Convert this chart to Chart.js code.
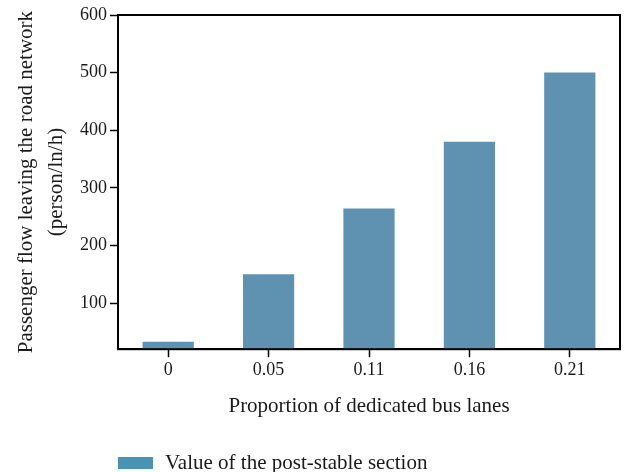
<!DOCTYPE html>
<html>
<head>
<meta charset="utf-8">
<script src="https://cdn.jsdelivr.net/npm/chart.js@4"></script>
<style>
  html, body { margin: 0; padding: 0; background: #fff; }
  #wrap { width: 637px; height: 472px; }
</style>
</head>
<body>
<div id="wrap"><canvas id="barChart" width="637" height="472"></canvas></div>
<script>
const categories = ["0", "0.05", "0.11", "0.16", "0.21"];
const flowValues = [33, 150, 264, 380, 500];
const yTicks = [100, 200, 300, 400, 500, 600];
const seriesName = "Value of the post-stable section";
const xTitle = "Proportion of dedicated bus lanes";
const yTitle = ["Passenger flow leaving the road network", "(person/ln/h)"];

const fontFamily = "'Liberation Serif', 'DejaVu Serif', serif";
const barColor = "#5f91b1";
const legendColor = "#4893b4";

// box round the plot area plus legend under the axis
const framePlugin = {
  id: "frame",
  afterDraw(chart) {
    const a = chart.chartArea;
    const c = chart.ctx;
    c.save();
    c.strokeStyle = "#000";
    c.lineWidth = 2;
    c.strokeRect(a.left, a.top, a.right - a.left, a.bottom - a.top);
    c.fillStyle = legendColor;
    c.fillRect(a.left, 457, 35, 12);
    c.fillStyle = "#1a1a1a";
    c.font = "21px " + fontFamily;
    c.textBaseline = "middle";
    c.fillText(chart.data.datasets[0].label, a.left + 47, 463);
    c.restore();
  },
};

var ctx = document.getElementById("barChart").getContext("2d");
var barChart = new Chart(ctx, {
  type: "bar",
  data: {
    labels: categories,
    datasets: [
      {
        label: seriesName,
        data: flowValues,
        backgroundColor: barColor,
        borderWidth: 0,
        categoryPercentage: 1,
        barPercentage: 0.51,
      },
    ],
  },
  plugins: [framePlugin],
  options: {
    responsive: false,
    animation: false,
    layout: { padding: { top: 15, right: 17, bottom: 53, left: 0 } },
    plugins: {
      legend: { display: false },
      tooltip: { enabled: false },
    },
    scales: {
      x: {
        grid: {
          display: true,
          offset: false,
          drawOnChartArea: false,
          tickLength: 8,
          tickWidth: 1.5,
          tickColor: "#000",
        },
        border: { display: true, color: "#000", width: 2 },
        ticks: {
          color: "#1a1a1a",
          padding: 2,
          font: { family: fontFamily, size: 18 },
        },
        title: {
          display: true,
          text: xTitle,
          color: "#1a1a1a",
          padding: { top: 11, bottom: 0 },
          font: { family: fontFamily, size: 21 },
        },
      },
      y: {
        min: 20,
        max: 600,
        afterBuildTicks: (scale) => {
          scale.ticks = yTicks.map((v) => ({ value: v }));
        },
        afterFit: (scale) => {
          scale.width = 118;
        },
        grid: {
          display: true,
          drawOnChartArea: false,
          tickLength: 8,
          tickWidth: 1.5,
          tickColor: "#000",
        },
        border: { display: true, color: "#000", width: 2 },
        ticks: {
          color: "#1a1a1a",
          padding: 3,
          font: { family: fontFamily, size: 18 },
        },
        title: {
          display: true,
          text: yTitle,
          color: "#1a1a1a",
          padding: { top: 11, bottom: 0 },
          font: { family: fontFamily, size: 21, lineHeight: 1.45 },
        },
      },
    },
  },
});
</script>
</body>
</html>
